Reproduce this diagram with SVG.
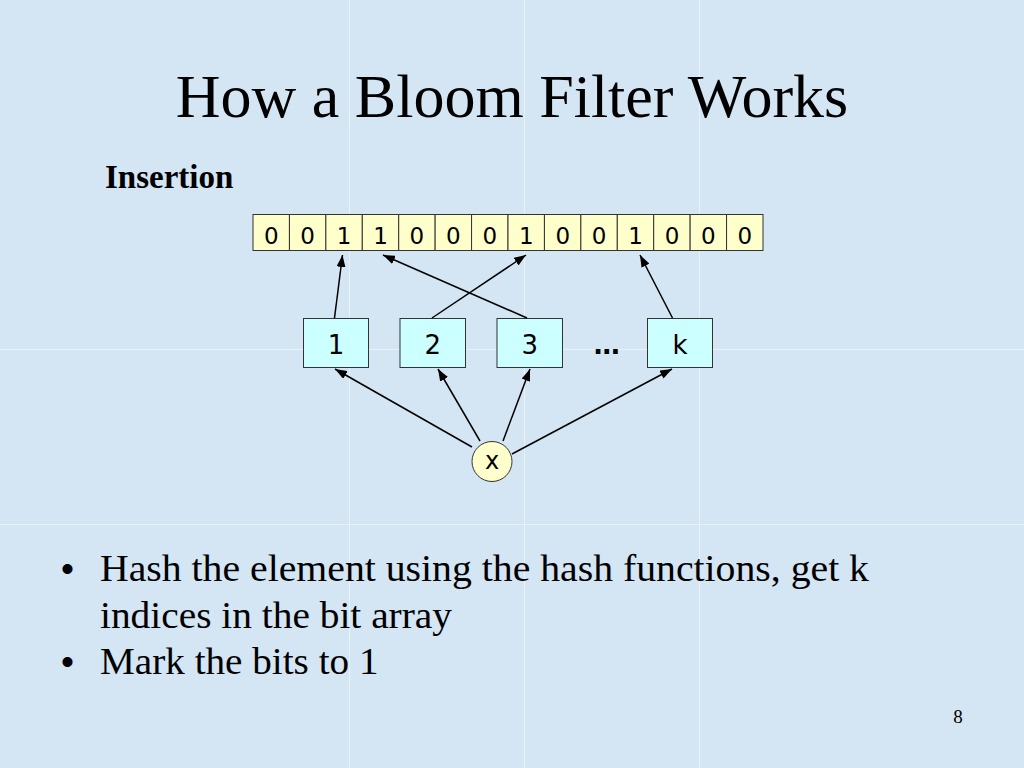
<svg xmlns="http://www.w3.org/2000/svg" width="1024" height="768" viewBox="0 0 1024 768">
<defs>
<marker id="ah" markerUnits="userSpaceOnUse" markerWidth="12" markerHeight="9" refX="12" refY="4.5" orient="auto">
<path d="M0,0 L12,4.5 L0,9 z" fill="#000"/>
</marker>
</defs>
<style>
.cell{fill:#ffffcc;stroke:#333;stroke-width:1}
.bit{font-family:"DejaVu Sans",sans-serif;font-size:23px;text-anchor:middle;fill:#000}
.hbox{fill:#ccffff;stroke:#333;stroke-width:1}
.hlab{font-family:"DejaVu Sans",sans-serif;font-size:26px;text-anchor:middle;fill:#000}
.conn line{stroke:#000;stroke-width:1.5;marker-end:url(#ah)}
.seam{stroke:#ffffff;stroke-width:1;opacity:0.5}
.body{font-family:"Liberation Serif","Times New Roman",serif;fill:#000}
</style>
<rect x="0" y="0" width="1024" height="768" fill="#d4e5f4"/>
<g id="seams">
<line class="seam" x1="349.5" y1="0" x2="349.5" y2="768"/>
<line class="seam" x1="524.5" y1="0" x2="524.5" y2="768"/>
<line class="seam" x1="699.5" y1="0" x2="699.5" y2="768"/>
<line class="seam" x1="0" y1="349.5" x2="1024" y2="349.5"/>
<line class="seam" x1="0" y1="524.5" x2="1024" y2="524.5"/>
</g>
<text class="body" x="512" y="117" font-size="62" text-anchor="middle">How a Bloom Filter Works</text>
<text class="body" x="105" y="188" font-size="33" font-weight="bold">Insertion</text>

<g id="bitarray">
<rect class="cell" x="253" y="214.5" width="36.43" height="36"/>
<rect class="cell" x="289.43" y="214.5" width="36.43" height="36"/>
<rect class="cell" x="325.86" y="214.5" width="36.43" height="36"/>
<rect class="cell" x="362.29" y="214.5" width="36.43" height="36"/>
<rect class="cell" x="398.71" y="214.5" width="36.43" height="36"/>
<rect class="cell" x="435.14" y="214.5" width="36.43" height="36"/>
<rect class="cell" x="471.57" y="214.5" width="36.43" height="36"/>
<rect class="cell" x="508" y="214.5" width="36.43" height="36"/>
<rect class="cell" x="544.43" y="214.5" width="36.43" height="36"/>
<rect class="cell" x="580.86" y="214.5" width="36.43" height="36"/>
<rect class="cell" x="617.29" y="214.5" width="36.43" height="36"/>
<rect class="cell" x="653.71" y="214.5" width="36.43" height="36"/>
<rect class="cell" x="690.14" y="214.5" width="36.43" height="36"/>
<rect class="cell" x="726.57" y="214.5" width="36.43" height="36"/>
<text class="bit" x="271.2" y="244">0</text>
<text class="bit" x="307.6" y="244">0</text>
<text class="bit" x="344.1" y="244">1</text>
<text class="bit" x="380.5" y="244">1</text>
<text class="bit" x="416.9" y="244">0</text>
<text class="bit" x="453.4" y="244">0</text>
<text class="bit" x="489.8" y="244">0</text>
<text class="bit" x="526.3" y="244">1</text>
<text class="bit" x="562.7" y="244">0</text>
<text class="bit" x="599.1" y="244">0</text>
<text class="bit" x="635.6" y="244">1</text>
<text class="bit" x="672" y="244">0</text>
<text class="bit" x="708.4" y="244">0</text>
<text class="bit" x="744.8" y="244">0</text>
</g>

<g id="h1"><rect class="hbox" x="303.5" y="318.5" width="65" height="49"/><text class="hlab" x="336" y="353.5">1</text></g>
<g id="h2"><rect class="hbox" x="400" y="318.5" width="65.5" height="49"/><text class="hlab" x="432.7" y="353.5">2</text></g>
<g id="h3"><rect class="hbox" x="497" y="318.5" width="65.5" height="49"/><text class="hlab" x="529.7" y="353.5">3</text></g>
<g id="hdots"><text class="hlab" x="606.7" y="354" style="font-weight:bold">…</text></g>
<g id="hk"><rect class="hbox" x="647.5" y="318.5" width="65" height="49"/><text class="hlab" x="680" y="353.5">k</text></g>
<g id="x"><circle cx="492" cy="461.5" r="20" fill="#ffffcc" stroke="#333" stroke-width="1"/><text class="hlab" x="492" y="469" style="font-size:24px">x</text></g>

<g id="connectors" class="conn">
<line x1="334.5" y1="318" x2="342.5" y2="255"/>
<line x1="432" y1="318" x2="526" y2="255"/>
<line x1="527" y1="318" x2="383" y2="255"/>
<line x1="672.5" y1="318" x2="640" y2="255"/>
<line x1="472" y1="447" x2="335" y2="369"/>
<line x1="480" y1="441" x2="438" y2="369"/>
<line x1="503" y1="441" x2="530" y2="369"/>
<line x1="512" y1="454" x2="672" y2="369"/>
</g>

<g id="bullets">
<text x="61" y="581" font-family="Liberation Sans,Arial,sans-serif" font-size="37">•</text>
<text class="body" x="100" y="581" font-size="38" textLength="769" lengthAdjust="spacingAndGlyphs">Hash the element using the hash functions, get k</text>
<text class="body" x="100" y="627.5" font-size="38" textLength="352" lengthAdjust="spacingAndGlyphs">indices in the bit array</text>
<text x="61" y="674" font-family="Liberation Sans,Arial,sans-serif" font-size="37">•</text>
<text class="body" x="100" y="674" font-size="38" textLength="278.5" lengthAdjust="spacingAndGlyphs">Mark the bits to 1</text>
</g>
<text class="body" x="958" y="723" font-size="19" text-anchor="middle">8</text>
</svg>
